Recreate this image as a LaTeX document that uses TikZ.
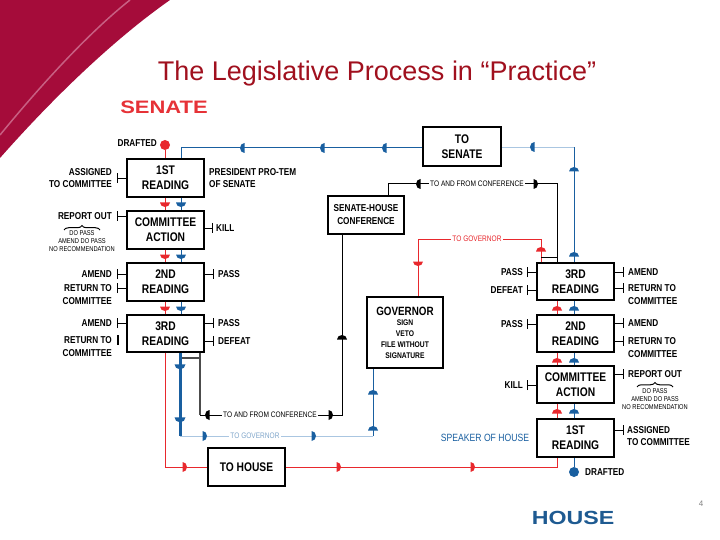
\documentclass[tikz,border=0pt]{standalone}
\usepackage{fontspec}
\setmainfont{Liberation Sans}
\newfontfamily\nar[FakeStretch=0.82]{Liberation Sans}
\newfontfamily\wide[FakeStretch=1.22]{Liberation Sans}
\usetikzlibrary{arrows.meta,decorations.pathreplacing}
\definecolor{crim}{RGB}{165,12,58}
\definecolor{crimline}{RGB}{200,95,130}
\definecolor{ttl}{RGB}{160,16,30}
\definecolor{sred}{RGB}{230,50,55}
\definecolor{rl}{RGB}{232,40,45}
\definecolor{bl}{RGB}{25,95,160}
\definecolor{fbl}{RGB}{170,198,225}
\definecolor{hblue}{RGB}{30,90,145}
\begin{document}
\begin{tikzpicture}[x=1pt,y=-1pt,
 box/.style={draw, line width=1.1pt, fill=white, minimum width=77pt, minimum height=38pt, inner sep=1pt, align=center, font=\nar\bfseries\fontsize{12.5}{15}\selectfont},
 lab/.style={inner sep=0pt, font=\nar\bfseries\fontsize{10}{12.5}\selectfont},
 tiny/.style={inner sep=0pt, align=center, font=\nar\fontsize{7}{8}\selectfont},
 small/.style={inner sep=1.5pt, fill=white, font=\nar\fontsize{8}{9}\selectfont},
 redl/.style={draw=rl, line width=1pt},
 bluel/.style={draw=bl, line width=1pt},
 blk/.style={draw=black, line width=1pt},
 grayl/.style={draw=gray!60!black, line width=1.4pt},
 tick/.style={line width=0.8pt, -{Bar[width=10pt,line width=1.1pt]}},
 brc/.style={decorate, decoration={brace, amplitude=4.5pt}, line width=1pt},
 mk/.pic={\fill (-1.5pt,-5pt) -- (-1.5pt,5pt) arc[start angle=90,end angle=-90,x radius=4.5pt,y radius=5pt] -- cycle;},
]
\useasboundingbox (0,0) rectangle (720,540);
% background corner
\fill[crim] (0,0) -- (170,0) .. controls (120,35) and (60,90) .. (0,158) -- cycle;
\draw[crimline, line width=1.5pt] (130,0) .. controls (92,30) and (45,80) .. (0,135);
% titles
\node[text=ttl, font=\fontsize{27}{30}\selectfont] (title) at (377,74) {The Legislative Process in “Practice”};
\node[text=sred, font=\wide\bfseries\fontsize{18}{18}\selectfont] (senate) at (164,107) {SENATE};
\node[text=hblue, font=\wide\bfseries\fontsize{19}{19}\selectfont] (house) at (573,518) {HOUSE};
\node[text=gray, font=\fontsize{8}{8}\selectfont] (pg) at (701,504) {4};

% boxes
\node[box] (s1) at (165.5,178) {1ST\\READING};
\node[box] (sc) at (165.5,230) {COMMITTEE\\ACTION};
\node[box] (s2) at (165.5,282) {2ND\\READING};
\node[box, minimum height=37pt] (s3) at (165.5,333.5) {3RD\\READING};
\node[box] (toh) at (246.5,467) {TO HOUSE};
\node[box, minimum width=78pt, minimum height=39pt] (tos) at (462,146.5) {TO\\SENATE};
\node[box, minimum width=76pt, font=\nar\bfseries\fontsize{10}{13}\selectfont] (conf) at (366,215) {SENATE-HOUSE\\CONFERENCE};
\node[box, minimum width=76pt, minimum height=71pt, font=\nar\bfseries\fontsize{8.2}{10.7}\selectfont] (gov) at (405,332.5) {{\fontsize{12}{12}\selectfont GOVERNOR}\\SIGN\\VETO\\FILE WITHOUT\\SIGNATURE};
\node[box, minimum height=37pt] (h3) at (575.5,281.5) {3RD\\READING};
\node[box, minimum height=37pt] (h2) at (575.5,333.5) {2ND\\READING};
\node[box, minimum height=37pt] (hc) at (575.5,384.5) {COMMITTEE\\ACTION};
\node[box] (h1) at (575.5,438) {1ST\\READING};

% Senate start
\node[circle, fill=rl, inner sep=0pt, minimum size=10pt] (sd) at (165,145) {};
\node[lab, anchor=east] (sdl) at (157,143) {DRAFTED};
\draw[redl] (sd) -- (s1.north -| sd);
\foreach \a/\b/\y in {s1/sc/204, sc/s2/256, s2/s3/308} {
  \draw[redl] (\a.south -| 165,0) -- (\b.north -| 165,0);
  \draw[bluel] (\a.south -| 181,0) -- (\b.north -| 181,0);
  \pic[color=rl, rotate=-90] at (165,\y) {mk};
  \pic[color=bl, rotate=-90] at (181,\y) {mk};
}
% Senate labels
\draw[tick] (s1.west |- 0,178) -- (117,178);
\node[lab, anchor=east, align=right] at (112,178) {ASSIGNED\\TO COMMITTEE};
\node[lab, anchor=west, align=left] at (209,178) {PRESIDENT PRO-TEM\\OF SENATE};
\draw[tick] (sc.west |- 0,216) -- (117,216);
\node[lab, anchor=east] at (112,216) {REPORT OUT};
\draw[brc] (64,230) -- (100,230);
\node[tiny] at (82,241.5) {DO PASS\\AMEND DO PASS\\NO RECOMMENDATION};
\draw[tick] (sc.east |- 0,228) -- (213,228);
\node[lab, anchor=west] at (216,228) {KILL};
\draw[tick] (s2.west |- 0,274) -- (117,274);
\node[lab, anchor=east] at (112,274) {AMEND};
\draw[tick] (s2.west |- 0,288) -- (117,288);
\node[lab, anchor=east, align=right] at (112,294.5) {RETURN TO\\COMMITTEE};
\draw[tick] (s2.east |- 0,274) -- (214,274);
\node[lab, anchor=west] at (218,274) {PASS};
\draw[tick] (s3.west |- 0,323) -- (117,323);
\node[lab, anchor=east] at (112,323) {AMEND};
\draw[line width=1.1pt] (118,335) -- (118,345);
\node[lab, anchor=east, align=right] at (112,346.5) {RETURN TO\\COMMITTEE};
\draw[tick] (s3.east |- 0,323) -- (214,323);
\node[lab, anchor=west] at (218,323) {PASS};
\draw[tick] (s3.east |- 0,341) -- (214,341);
\node[lab, anchor=west] at (218,341) {DEFEAT};

% blue route from TO SENATE
\draw[bluel] (tos.west |- 0,148) -| (s1.north -| 181,0);
\foreach \x in {243,323,385} { \pic[color=bl, rotate=180] at (\x,148) {mk}; }

% below Senate 3rd reading
\draw[grayl] (s3.south -| 200,0) -- (200,415);
\draw[grayl] (181,358) -- (200,358);
\draw[blk] (200,415) -| (conf.south -| 342,0);
\node[small] at (270,415) {TO AND FROM CONFERENCE};
\pic[color=black, rotate=180] at (208,415) {mk};
\pic[color=black] at (330,415) {mk};
\pic[color=black, rotate=90] at (342,338) {mk};

\draw[draw=bl, line width=3pt] (s3.south -| 180,0) -- (180,436);
\pic[color=bl, rotate=-90, scale=1.1] at (180,366) {mk};
\pic[color=bl, rotate=-90, scale=1.1] at (180,419) {mk};
\draw[draw=fbl, line width=0.8pt] (180,436) -- (373,436);
\draw[bluel] (373,436) -- (gov.south -| 373,0);
\node[small, text=bl!55] at (255,436) {TO GOVERNOR};
\pic[color=bl] at (204,436) {mk};
\pic[color=bl] at (313,436) {mk};
\pic[color=bl, rotate=90] at (373,393) {mk};
\pic[color=bl, rotate=90] at (373,429) {mk};

\draw[redl] (s3.south -| 165,0) |- (toh.west);
\draw[redl] (toh.east) -| (h1.south -| 557,0);
\foreach \x in {184,338,472} { \pic[color=rl] at (\x,467) {mk}; }

% House
\node[circle, fill=bl, inner sep=0pt, minimum size=10pt] (hd) at (574,472) {};
\node[lab, anchor=west] (hdl) at (585,472) {DRAFTED};
\draw[bluel] (hd) -- (h1.south -| hd);
\foreach \a/\b/\y in {h1/hc/412, hc/h2/361, h2/h3/309} {
  \draw[redl] (\a.north -| 557,0) -- (\b.south -| 557,0);
  \draw[bluel] (\a.north -| 574,0) -- (\b.south -| 574,0);
  \pic[color=rl, rotate=90] at (557,\y) {mk};
  \pic[color=bl, rotate=90] at (574,\y) {mk};
}
\coordinate (hb) at (574,147);
\draw[bluel] (h3.north -| hb) -- (hb);
\draw[draw=fbl, line width=0.8pt] (hb) -- (tos.east |- hb);
\pic[color=bl, rotate=90] at (574,170) {mk};
\pic[color=bl, rotate=90] at (574,255) {mk};
\pic[color=bl, rotate=180] at (533,147) {mk};

\draw[draw=rl, line width=0.8pt] (h3.north -| 541,0) |- (418,239) -- (gov.north -| 418,0);
\node[small, text=rl] at (477,239) {TO GOVERNOR};
\pic[color=rl, rotate=90] at (541,250) {mk};
\pic[color=rl, rotate=-90] at (418,263) {mk};

\draw[blk] (conf.north -| 388,0) |- (557,184) -- (h3.north -| 557,0);
\draw[blk] (541,257) -- (557,257);
\node[small] at (477,184) {TO AND FROM CONFERENCE};
\pic[color=black, rotate=180] at (419,184) {mk};
\pic[color=black] at (535,184) {mk};

% House labels
\draw[tick] (h3.west |- 0,272) -- (527,272);
\node[lab, anchor=east] at (523,272) {PASS};
\draw[tick] (h3.west |- 0,290) -- (527,290);
\node[lab, anchor=east] at (523,290) {DEFEAT};
\draw[tick] (h3.east |- 0,272) -- (624,272);
\node[lab, anchor=west] at (628,272) {AMEND};
\draw[tick] (h3.east |- 0,288) -- (624,288);
\node[lab, anchor=west, align=left] at (628,294.5) {RETURN TO\\COMMITTEE};
\draw[tick] (h2.west |- 0,324) -- (527,324);
\node[lab, anchor=east] at (523,324) {PASS};
\draw[tick] (h2.east |- 0,323) -- (624,323);
\node[lab, anchor=west] at (628,323) {AMEND};
\draw[tick] (h2.east |- 0,341) -- (624,341);
\node[lab, anchor=west, align=left] at (628,347.5) {RETURN TO\\COMMITTEE};
\draw[tick] (hc.west |- 0,385) -- (527,385);
\node[lab, anchor=east] at (523,385) {KILL};
\draw[tick] (hc.east |- 0,374) -- (624,374);
\node[lab, anchor=west] at (628,374) {REPORT OUT};
\draw[brc] (637,387) -- (673,387);
\node[tiny] at (655,399) {DO PASS\\AMEND DO PASS\\NO RECOMMENDATION};
\draw[tick] (h1.east |- 0,430) -- (624,430);
\node[lab, anchor=west, align=left] at (627,436) {ASSIGNED\\TO COMMITTEE};
\node[text=bl, font=\nar\fontsize{10.5}{12}\selectfont] at (485,438) {SPEAKER OF HOUSE};
\end{tikzpicture}
\end{document}
